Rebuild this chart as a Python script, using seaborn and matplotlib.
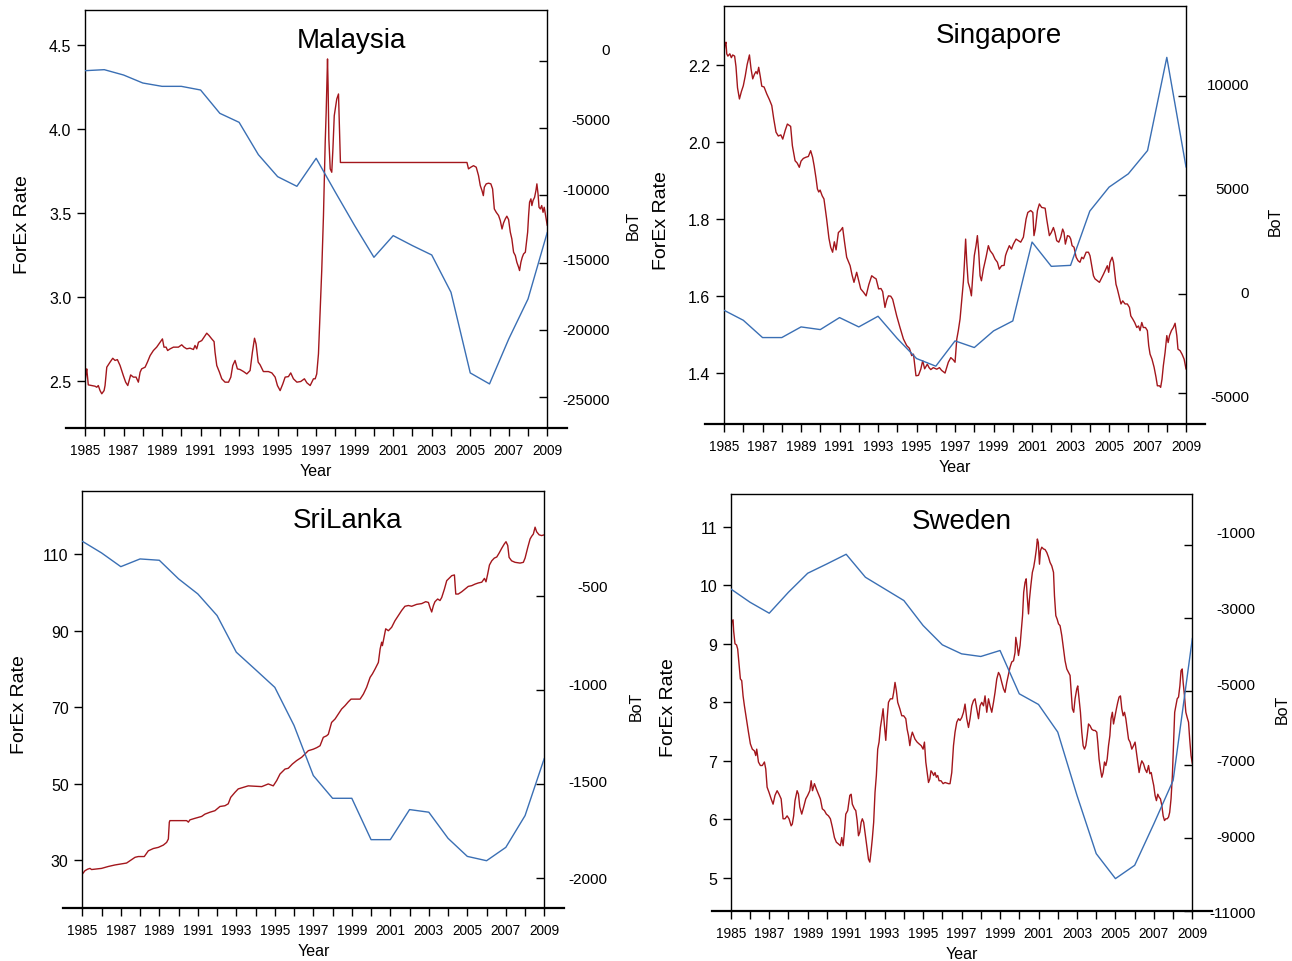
import matplotlib
matplotlib.use("Agg")
import matplotlib.pyplot as plt
import seaborn as sns

sns.set_theme(style="ticks", rc={
    "axes.edgecolor": "black", "text.color": "black", "axes.labelcolor": "black",
    "xtick.color": "black", "ytick.color": "black",
})
plt.rcParams["font.family"] = ["Liberation Sans", "DejaVu Sans"]
plt.rcParams["axes.unicode_minus"] = False

FX_COLOR = "#a3161c"
BOT_COLOR = "#3a6fb4"

YEARS = list(range(1985, 2010))
TICK_LABELS = [str(y) if y % 2 == 1 else "" for y in YEARS]

# ---------------- Malaysia ----------------
MY_FX_T = [1985.00, 1985.05, 1985.09, 1985.17, 1985.35, 1985.52, 1985.61, 1985.69, 1985.78, 1985.87,
           1985.99, 1986.04, 1986.13, 1986.30, 1986.44, 1986.56, 1986.68, 1986.82, 1986.99, 1987.11,
           1987.22, 1987.37, 1987.51, 1987.65, 1987.77, 1987.86, 1987.94, 1988.12, 1988.24, 1988.38,
           1988.55, 1988.72, 1988.90, 1989.02, 1989.10, 1989.21, 1989.29, 1989.42, 1989.59, 1989.85,
           1990.02, 1990.14, 1990.28, 1990.45, 1990.63, 1990.71, 1990.80, 1990.89, 1991.06, 1991.18,
           1991.32, 1991.44, 1991.58, 1991.70, 1991.75, 1991.84, 1991.98, 1992.10, 1992.27, 1992.45,
           1992.57, 1992.67, 1992.79, 1992.91, 1993.05, 1993.23, 1993.40, 1993.57, 1993.69, 1993.80,
           1993.88, 1993.99, 1994.09, 1994.26, 1994.52, 1994.70, 1994.87, 1994.99, 1995.13, 1995.27,
           1995.39, 1995.56, 1995.68, 1995.82, 1996.00, 1996.20, 1996.39, 1996.52, 1996.69, 1996.86,
           1996.95, 1997.03, 1997.12, 1997.21, 1997.29, 1997.38, 1997.47, 1997.52, 1997.59, 1997.62,
           1997.66, 1997.73, 1997.81, 1997.87, 1997.94, 1998.07, 1998.16, 1998.21, 1998.26, 2004.83,
           2004.91, 2005.03, 2005.17, 2005.31, 2005.43, 2005.52, 2005.61, 2005.68, 2005.73, 2005.83,
           2005.95, 2006.07, 2006.16, 2006.25, 2006.35, 2006.47, 2006.56, 2006.65, 2006.73, 2006.82,
           2006.90, 2006.99, 2007.08, 2007.16, 2007.25, 2007.34, 2007.42, 2007.51, 2007.56, 2007.63,
           2007.70, 2007.77, 2007.86, 2007.91, 2007.98, 2008.03, 2008.08, 2008.15, 2008.20, 2008.26,
           2008.34, 2008.41, 2008.46, 2008.52, 2008.57, 2008.64, 2008.71, 2008.78, 2008.84, 2008.91,
           2009.00]
MY_FX = [2.495, 2.544, 2.574, 2.479, 2.475, 2.471, 2.465, 2.475, 2.445, 2.426,
         2.445, 2.475, 2.584, 2.614, 2.637, 2.624, 2.629, 2.594, 2.534, 2.495,
         2.475, 2.538, 2.525, 2.525, 2.495, 2.554, 2.574, 2.584, 2.614, 2.653,
         2.683, 2.703, 2.732, 2.752, 2.703, 2.703, 2.683, 2.693, 2.703, 2.703,
         2.717, 2.703, 2.693, 2.697, 2.689, 2.713, 2.693, 2.732, 2.742, 2.762,
         2.786, 2.772, 2.752, 2.736, 2.673, 2.594, 2.554, 2.515, 2.495, 2.495,
         2.525, 2.594, 2.624, 2.574, 2.570, 2.558, 2.544, 2.564, 2.673, 2.756,
         2.722, 2.614, 2.598, 2.558, 2.558, 2.550, 2.525, 2.475, 2.445, 2.485,
         2.525, 2.528, 2.550, 2.515, 2.495, 2.499, 2.515, 2.491, 2.475, 2.515,
         2.515, 2.544, 2.663, 2.920, 3.158, 3.485, 3.920, 4.098, 4.415, 4.257,
         3.940, 3.762, 3.742, 3.880, 4.078, 4.177, 4.207, 4.000, 3.800, 3.800,
         3.762, 3.772, 3.781, 3.772, 3.722, 3.663, 3.633, 3.603, 3.653, 3.673,
         3.677, 3.673, 3.643, 3.524, 3.504, 3.485, 3.455, 3.405, 3.441, 3.465,
         3.481, 3.461, 3.386, 3.346, 3.267, 3.247, 3.207, 3.178, 3.158, 3.207,
         3.237, 3.257, 3.267, 3.316, 3.386, 3.485, 3.564, 3.584, 3.544, 3.574,
         3.593, 3.633, 3.673, 3.613, 3.534, 3.524, 3.544, 3.504, 3.534, 3.485,
         3.425]
MY_BOT = [-743, -668, -1064, -1658, -1906, -1906, -2178, -3911, -4579, -6980,
          -8614, -9332, -7252, -9777, -12252, -14604, -12995, -13738, -14431, -17203,
          -23193, -24010, -20668, -17698, -12748]

# ---------------- Singapore ----------------
SG_FX_T = [1985.00, 1985.04, 1985.10, 1985.14, 1985.20, 1985.30, 1985.38, 1985.45, 1985.55, 1985.62,
           1985.70, 1985.80, 1985.90, 1986.00, 1986.10, 1986.20, 1986.32, 1986.40, 1986.49, 1986.58,
           1986.66, 1986.73, 1986.80, 1986.88, 1986.96, 1987.08, 1987.22, 1987.35, 1987.48, 1987.58,
           1987.70, 1987.82, 1987.95, 1988.05, 1988.18, 1988.29, 1988.46, 1988.55, 1988.69, 1988.80,
           1988.91, 1989.00, 1989.12, 1989.25, 1989.38, 1989.50, 1989.60, 1989.68, 1989.78, 1989.85,
           1989.92, 1989.99, 1990.10, 1990.19, 1990.33, 1990.45, 1990.54, 1990.64, 1990.73, 1990.82,
           1990.94, 1991.05, 1991.16, 1991.26, 1991.37, 1991.55, 1991.65, 1991.75, 1991.89, 1992.00,
           1992.10, 1992.25, 1992.38, 1992.52, 1992.67, 1992.80, 1992.90, 1993.03, 1993.15, 1993.24,
           1993.36, 1993.45, 1993.54, 1993.66, 1993.76, 1993.87, 1993.97, 1994.14, 1994.32, 1994.49,
           1994.63, 1994.75, 1994.84, 1994.97, 1995.10, 1995.22, 1995.32, 1995.42, 1995.56, 1995.65,
           1995.74, 1995.87, 1996.05, 1996.19, 1996.30, 1996.48, 1996.65, 1996.78, 1996.91, 1997.00,
           1997.09, 1997.17, 1997.26, 1997.35, 1997.43, 1997.48, 1997.55, 1997.61, 1997.68, 1997.78,
           1997.85, 1997.92, 1998.00, 1998.09, 1998.16, 1998.23, 1998.30, 1998.37, 1998.47, 1998.61,
           1998.73, 1998.82, 1998.96, 1999.08, 1999.20, 1999.30, 1999.42, 1999.55, 1999.62, 1999.68,
           1999.82, 1999.93, 2000.03, 2000.17, 2000.29, 2000.41, 2000.55, 2000.69, 2000.78, 2000.93,
           2001.04, 2001.10, 2001.17, 2001.28, 2001.38, 2001.50, 2001.68, 2001.76, 2001.90, 2002.00,
           2002.11, 2002.19, 2002.28, 2002.39, 2002.49, 2002.59, 2002.66, 2002.73, 2002.84, 2002.94,
           2003.01, 2003.08, 2003.18, 2003.29, 2003.39, 2003.49, 2003.58, 2003.67, 2003.81, 2003.93,
           2004.01, 2004.10, 2004.19, 2004.27, 2004.40, 2004.50, 2004.59, 2004.71, 2004.83, 2004.91,
           2004.98, 2005.05, 2005.16, 2005.23, 2005.31, 2005.36, 2005.43, 2005.54, 2005.62, 2005.71,
           2005.83, 2005.95, 2006.06, 2006.13, 2006.23, 2006.33, 2006.44, 2006.53, 2006.61, 2006.70,
           2006.78, 2006.89, 2006.99, 2007.06, 2007.13, 2007.23, 2007.34, 2007.44, 2007.51, 2007.62,
           2007.68, 2007.75, 2007.82, 2007.91, 2008.00, 2008.07, 2008.14, 2008.24, 2008.34, 2008.43,
           2008.52, 2008.58, 2008.69, 2008.79, 2008.90, 2009.00]
SG_FX = [2.232, 2.250, 2.258, 2.228, 2.222, 2.228, 2.218, 2.225, 2.222, 2.195,
         2.140, 2.111, 2.130, 2.145, 2.170, 2.200, 2.225, 2.190, 2.163, 2.175,
         2.182, 2.176, 2.193, 2.170, 2.144, 2.142, 2.124, 2.110, 2.094, 2.060,
         2.025, 2.015, 2.018, 2.007, 2.030, 2.046, 2.040, 1.990, 1.951, 1.945,
         1.934, 1.950, 1.957, 1.960, 1.962, 1.977, 1.960, 1.938, 1.905, 1.878,
         1.870, 1.875, 1.860, 1.852, 1.800, 1.750, 1.727, 1.714, 1.741, 1.720,
         1.765, 1.770, 1.778, 1.740, 1.701, 1.679, 1.655, 1.636, 1.662, 1.640,
         1.619, 1.610, 1.601, 1.630, 1.653, 1.648, 1.645, 1.619, 1.620, 1.612,
         1.571, 1.590, 1.601, 1.600, 1.592, 1.570, 1.549, 1.519, 1.489, 1.472,
         1.465, 1.446, 1.450, 1.394, 1.395, 1.411, 1.433, 1.412, 1.424, 1.415,
         1.410, 1.415, 1.411, 1.415, 1.408, 1.401, 1.429, 1.441, 1.435, 1.429,
         1.489, 1.511, 1.541, 1.593, 1.636, 1.679, 1.748, 1.688, 1.636, 1.619,
         1.601, 1.653, 1.705, 1.731, 1.757, 1.714, 1.653, 1.640, 1.670, 1.701,
         1.731, 1.718, 1.709, 1.696, 1.688, 1.670, 1.679, 1.680, 1.705, 1.714,
         1.731, 1.722, 1.735, 1.748, 1.744, 1.740, 1.753, 1.800, 1.817, 1.822,
         1.817, 1.757, 1.774, 1.822, 1.839, 1.830, 1.828, 1.800, 1.757, 1.765,
         1.778, 1.765, 1.744, 1.740, 1.753, 1.774, 1.765, 1.735, 1.757, 1.755,
         1.748, 1.731, 1.727, 1.701, 1.692, 1.688, 1.701, 1.697, 1.714, 1.714,
         1.705, 1.679, 1.653, 1.645, 1.640, 1.636, 1.645, 1.657, 1.670, 1.679,
         1.662, 1.688, 1.701, 1.688, 1.653, 1.631, 1.619, 1.597, 1.580, 1.588,
         1.580, 1.580, 1.571, 1.549, 1.541, 1.532, 1.519, 1.523, 1.511, 1.532,
         1.519, 1.519, 1.511, 1.472, 1.450, 1.437, 1.416, 1.390, 1.368, 1.368,
         1.364, 1.385, 1.420, 1.454, 1.498, 1.480, 1.498, 1.511, 1.519, 1.530,
         1.498, 1.463, 1.459, 1.450, 1.437, 1.411]
SG_BOT = [-807, -1311, -2185, -2185, -1647, -1782, -1176, -1647, -1109, -2235,
          -3244, -3630, -2353, -2689, -1849, -1345, 2639, 1412, 1462, 4202,
          5412, 6084, 7261, 11966, 6420]

# ---------------- Sri Lanka ----------------
LK_FX_T = [1985.00, 1985.14, 1985.28, 1985.40, 1985.48, 1985.66, 1986.00, 1986.35, 1986.70, 1987.04,
           1987.30, 1987.48, 1987.74, 1987.91, 1988.22, 1988.43, 1988.69, 1988.95, 1989.21, 1989.38,
           1989.47, 1989.52, 1989.55, 1990.42, 1990.51, 1990.59, 1990.85, 1991.20, 1991.37, 1991.63,
           1991.89, 1992.15, 1992.41, 1992.58, 1992.71, 1992.93, 1993.10, 1993.36, 1993.62, 1993.97,
           1994.32, 1994.66, 1994.92, 1995.10, 1995.27, 1995.53, 1995.70, 1995.91, 1996.13, 1996.40,
           1996.74, 1997.00, 1997.18, 1997.35, 1997.52, 1997.69, 1997.78, 1997.95, 1998.13, 1998.30,
           1998.47, 1998.65, 1998.82, 1998.96, 1999.17, 1999.43, 1999.60, 1999.77, 1999.95, 2000.07,
           2000.21, 2000.38, 2000.47, 2000.55, 2000.59, 2000.69, 2000.76, 2000.90, 2001.07, 2001.24,
           2001.42, 2001.59, 2001.76, 2001.94, 2002.11, 2002.37, 2002.63, 2002.84, 2002.98, 2003.06,
           2003.15, 2003.24, 2003.32, 2003.46, 2003.58, 2003.67, 2003.81, 2003.93, 2004.05, 2004.19,
           2004.33, 2004.40, 2004.53, 2004.71, 2004.88, 2005.05, 2005.23, 2005.40, 2005.57, 2005.75,
           2005.89, 2005.97, 2006.06, 2006.15, 2006.27, 2006.40, 2006.53, 2006.65, 2006.79, 2006.92,
           2007.01, 2007.10, 2007.17, 2007.30, 2007.48, 2007.74, 2007.91, 2008.00, 2008.14, 2008.26,
           2008.34, 2008.43, 2008.52, 2008.60, 2008.73, 2008.86, 2009.00]
LK_FX = [26.3, 27.2, 27.6, 27.8, 27.5, 27.6, 27.8, 28.3, 28.7, 29.0,
         29.2, 29.8, 30.7, 30.9, 30.9, 32.4, 33.0, 33.3, 33.9, 34.6,
         35.5, 39.9, 40.3, 40.3, 39.9, 40.5, 40.9, 41.4, 42.0, 42.5,
         42.9, 44.0, 44.2, 44.7, 46.4, 47.7, 48.6, 49.0, 49.4, 49.3,
         49.2, 49.9, 49.4, 50.8, 52.5, 53.8, 54.0, 55.1, 56.0, 56.9,
         58.6, 59.0, 59.4, 59.9, 62.1, 62.5, 62.9, 66.0, 66.9, 68.2,
         69.5, 70.4, 71.4, 72.1, 72.1, 72.1, 73.4, 75.2, 77.8, 78.7,
         80.0, 81.7, 85.2, 87.0, 86.1, 88.7, 90.5, 90.0, 90.9, 92.6,
         94.0, 95.3, 96.4, 96.6, 96.4, 96.9, 97.1, 97.6, 97.4, 96.1,
         94.9, 96.6, 97.6, 98.3, 97.9, 98.7, 100.9, 103.1, 103.7, 104.4,
         104.6, 99.6, 99.6, 100.2, 100.9, 101.6, 101.8, 102.2, 102.5, 102.7,
         103.7, 102.8, 104.9, 107.2, 108.3, 109.0, 109.3, 110.3, 111.6, 112.7,
         113.3, 112.3, 109.2, 108.3, 107.9, 107.7, 107.9, 109.0, 111.8, 114.0,
         114.7, 115.3, 117.1, 115.9, 115.1, 114.9, 115.1]
LK_BOT = [-211, -273, -346, -305, -312, -411, -491, -606, -801, -894,
          -988, -1191, -1457, -1578, -1578, -1798, -1798, -1638, -1652, -1791,
          -1887, -1910, -1839, -1670, -1365]

# ---------------- Sweden ----------------
SE_FX_T = [1985.00, 1985.05, 1985.12, 1985.15, 1985.22, 1985.30, 1985.36, 1985.43, 1985.50, 1985.57,
           1985.64, 1985.71, 1985.81, 1985.92, 1986.02, 1986.12, 1986.23, 1986.30, 1986.35, 1986.44,
           1986.54, 1986.64, 1986.75, 1986.82, 1986.89, 1986.99, 1987.10, 1987.20, 1987.30, 1987.41,
           1987.51, 1987.62, 1987.72, 1987.82, 1987.93, 1988.03, 1988.14, 1988.20, 1988.27, 1988.34,
           1988.45, 1988.52, 1988.59, 1988.69, 1988.79, 1988.90, 1989.00, 1989.11, 1989.18, 1989.25,
           1989.35, 1989.45, 1989.56, 1989.66, 1989.76, 1989.87, 1989.97, 1990.08, 1990.18, 1990.28,
           1990.39, 1990.49, 1990.60, 1990.70, 1990.77, 1990.84, 1990.91, 1990.98, 1991.08, 1991.19,
           1991.26, 1991.32, 1991.43, 1991.50, 1991.57, 1991.64, 1991.71, 1991.78, 1991.84, 1991.91,
           1991.98, 1992.09, 1992.16, 1992.23, 1992.29, 1992.36, 1992.43, 1992.50, 1992.57, 1992.64,
           1992.71, 1992.78, 1992.85, 1992.92, 1992.99, 1993.06, 1993.13, 1993.20, 1993.30, 1993.41,
           1993.47, 1993.54, 1993.61, 1993.68, 1993.79, 1993.89, 1993.99, 1994.10, 1994.17, 1994.24,
           1994.31, 1994.37, 1994.44, 1994.51, 1994.58, 1994.69, 1994.79, 1994.90, 1995.00, 1995.07,
           1995.14, 1995.21, 1995.28, 1995.35, 1995.41, 1995.48, 1995.55, 1995.62, 1995.69, 1995.76,
           1995.83, 1995.93, 1996.04, 1996.14, 1996.32, 1996.40, 1996.49, 1996.58, 1996.66, 1996.75,
           1996.84, 1996.92, 1997.01, 1997.10, 1997.18, 1997.27, 1997.36, 1997.44, 1997.53, 1997.62,
           1997.70, 1997.79, 1997.88, 1997.96, 1998.05, 1998.14, 1998.22, 1998.31, 1998.40, 1998.48,
           1998.57, 1998.66, 1998.74, 1998.83, 1998.92, 1999.00, 1999.09, 1999.18, 1999.26, 1999.35,
           1999.44, 1999.52, 1999.61, 1999.70, 1999.78, 1999.82, 1999.89, 1999.96, 2000.04, 2000.10,
           2000.17, 2000.23, 2000.30, 2000.36, 2000.41, 2000.48, 2000.53, 2000.60, 2000.68, 2000.75,
           2000.82, 2000.89, 2000.94, 2000.99, 2001.05, 2001.10, 2001.17, 2001.26, 2001.34, 2001.43,
           2001.52, 2001.60, 2001.69, 2001.78, 2001.83, 2001.90, 2001.97, 2002.04, 2002.12, 2002.21,
           2002.30, 2002.38, 2002.47, 2002.56, 2002.64, 2002.70, 2002.76, 2002.83, 2002.90, 2002.99,
           2003.04, 2003.11, 2003.18, 2003.25, 2003.32, 2003.39, 2003.46, 2003.53, 2003.60, 2003.68,
           2003.77, 2003.86, 2003.94, 2004.03, 2004.08, 2004.15, 2004.22, 2004.29, 2004.36, 2004.43,
           2004.50, 2004.57, 2004.64, 2004.71, 2004.77, 2004.84, 2004.90, 2004.98, 2005.05, 2005.12,
           2005.19, 2005.26, 2005.33, 2005.40, 2005.47, 2005.54, 2005.61, 2005.68, 2005.76, 2005.85,
           2005.94, 2006.02, 2006.09, 2006.16, 2006.23, 2006.30, 2006.37, 2006.46, 2006.54, 2006.63,
           2006.72, 2006.79, 2006.86, 2006.92, 2006.99, 2007.06, 2007.13, 2007.20, 2007.27, 2007.34,
           2007.41, 2007.48, 2007.55, 2007.62, 2007.69, 2007.76, 2007.82, 2007.89, 2007.96, 2008.03,
           2008.08, 2008.14, 2008.21, 2008.28, 2008.35, 2008.41, 2008.47, 2008.52, 2008.59, 2008.66,
           2008.73, 2008.80, 2008.86, 2008.93, 2009.00]
SE_FX = [9.14, 9.37, 9.41, 9.22, 9.00, 8.98, 8.91, 8.65, 8.40, 8.37,
         8.11, 7.94, 7.72, 7.49, 7.29, 7.20, 7.17, 7.09, 7.20, 6.98,
         6.92, 6.92, 6.98, 6.86, 6.55, 6.46, 6.35, 6.26, 6.41, 6.49,
         6.43, 6.35, 6.01, 6.01, 6.06, 6.01, 5.89, 5.92, 6.06, 6.32,
         6.49, 6.43, 6.21, 6.09, 6.21, 6.35, 6.41, 6.49, 6.66, 6.49,
         6.61, 6.52, 6.43, 6.35, 6.18, 6.15, 6.09, 6.06, 6.01, 5.87,
         5.69, 5.61, 5.58, 5.55, 5.69, 5.55, 5.78, 6.09, 6.15, 6.41,
         6.43, 6.26, 6.18, 6.15, 5.98, 5.72, 5.78, 5.95, 6.01, 5.95,
         5.78, 5.50, 5.32, 5.27, 5.44, 5.67, 5.95, 6.46, 6.75, 7.20,
         7.32, 7.57, 7.72, 7.89, 7.60, 7.35, 7.72, 8.00, 8.06, 8.06,
         8.17, 8.34, 8.20, 8.00, 7.89, 7.77, 7.77, 7.72, 7.54, 7.43,
         7.26, 7.40, 7.49, 7.43, 7.37, 7.32, 7.29, 7.26, 7.20, 7.32,
         6.98, 6.80, 6.63, 6.69, 6.83, 6.80, 6.75, 6.80, 6.72, 6.75,
         6.66, 6.66, 6.61, 6.63, 6.61, 6.61, 6.80, 7.26, 7.49, 7.66,
         7.72, 7.69, 7.74, 7.83, 7.97, 7.72, 7.57, 7.72, 7.94, 8.03,
         8.06, 7.89, 7.72, 7.94, 8.00, 7.94, 8.11, 7.83, 8.06, 7.94,
         7.83, 8.00, 8.17, 8.40, 8.51, 8.46, 8.34, 8.23, 8.17, 8.34,
         8.48, 8.60, 8.69, 8.71, 8.85, 9.11, 8.97, 8.80, 8.97, 9.20,
         9.48, 9.88, 10.05, 10.11, 9.82, 9.51, 9.76, 9.99, 10.22, 10.31,
         10.45, 10.62, 10.79, 10.73, 10.36, 10.59, 10.65, 10.62, 10.61, 10.56,
         10.48, 10.39, 10.33, 10.22, 9.82, 9.48, 9.42, 9.34, 9.31, 9.14,
         8.91, 8.71, 8.57, 8.51, 8.46, 8.17, 7.89, 7.83, 8.06, 8.23,
         8.28, 8.06, 7.83, 7.49, 7.26, 7.20, 7.26, 7.43, 7.63, 7.60,
         7.54, 7.52, 7.52, 7.49, 7.32, 7.03, 6.86, 6.72, 6.80, 6.98,
         6.92, 7.03, 7.26, 7.43, 7.72, 7.83, 7.63, 7.77, 7.89, 8.00,
         8.09, 8.11, 7.89, 7.77, 7.83, 7.72, 7.54, 7.37, 7.32, 7.20,
         7.26, 7.32, 7.15, 6.98, 6.80, 6.92, 7.00, 6.95, 6.86, 6.80,
         6.92, 6.78, 6.80, 6.69, 6.58, 6.41, 6.32, 6.43, 6.38, 6.35,
         6.24, 6.06, 5.98, 6.01, 6.01, 6.04, 6.12, 6.35, 6.75, 7.37,
         7.83, 7.94, 8.06, 8.09, 8.28, 8.54, 8.57, 8.34, 8.11, 7.83,
         7.74, 7.66, 7.37, 7.09, 6.95]
SE_BOT = [-2201, -2564, -2864, -2291, -1773, -1518, -1255, -1882, -2200, -2518,
          -3200, -3727, -3973, -4045, -3882, -5064, -5355, -6109, -7836, -9427,
          -10109, -9745, -8609, -7427, -3545]

PANELS = [
    dict(title="Malaysia", title_xy=(0.576, 0.929), rect=[0.0658, 0.5541, 0.3578, 0.4345],
         fx_t=MY_FX_T, fx=MY_FX, fx_lim=(2.223, 4.706), fx_ticks=[2.5, 3.0, 3.5, 4.0, 4.5], fx_fmt="{:.1f}",
         bot=MY_BOT, bot_lim=(-27281, 3767), bot_ticks=[-25000, -20000, -15000, -10000, -5000, 0],
         bot_label_lim=(-27121, 2736), bot_label_x=1.186),
    dict(title="Singapore", title_xy=(0.595, 0.931), rect=[0.5604, 0.5582, 0.3576, 0.4342],
         fx_t=SG_FX_T, fx=SG_FX, fx_lim=(1.269, 2.351), fx_ticks=[1.4, 1.6, 1.8, 2.0, 2.2], fx_fmt="{:.1f}",
         bot=SG_BOT, bot_lim=(-6551, 14545), bot_ticks=[-5000, 0, 5000, 10000],
         bot_label_lim=(-6396, 13705), bot_label_x=1.193),
    dict(title="SriLanka", title_xy=(0.573, 0.931), rect=[0.0637, 0.0548, 0.3576, 0.4335],
         fx_t=LK_FX_T, fx=LK_FX, fx_lim=(17.36, 126.5), fx_ticks=[30, 50, 70, 90, 110], fx_fmt="{:.0f}",
         bot=LK_BOT, bot_lim=(-2163, 55), bot_ticks=[-2000, -1500, -1000, -500],
         bot_label_lim=(-2155.5, -15.4), bot_label_x=1.198),
    dict(title="Sweden", title_xy=(0.501, 0.935), rect=[0.5656, 0.0517, 0.3573, 0.4338],
         fx_t=SE_FX_T, fx=SE_FX, fx_lim=(4.43, 11.56), fx_ticks=[5, 6, 7, 8, 9, 10, 11], fx_fmt="{:.0f}",
         bot=SE_BOT, bot_lim=(-11000, 391.5), bot_ticks=[-11000, -9000, -7000, -5000, -3000, -1000],
         bot_label_lim=(-10948, -23.5), bot_label_x=1.194),
]

fig = plt.figure(figsize=(12.92, 9.62), dpi=100)

for p in PANELS:
    ax = fig.add_axes(p["rect"])
    ax2 = ax.twinx()   # balance of trade scale (tick marks)
    ax3 = ax.twinx()   # balance of trade tick labels

    sns.lineplot(x=p["fx_t"], y=p["fx"], ax=ax, color=FX_COLOR, linewidth=1.0,
                 estimator=None, sort=False, legend=False)
    sns.lineplot(x=YEARS, y=p["bot"], ax=ax2, color=BOT_COLOR, linewidth=1.0,
                 estimator=None, sort=False, legend=False)

    ax.set_xlim(1985, 2009)
    ax.set_ylim(*p["fx_lim"])
    ax2.set_ylim(*p["bot_lim"])
    ax3.set_ylim(*p["bot_label_lim"])

    # frame: full box, bottom line runs past both sides
    for side in ["left", "right", "top", "bottom"]:
        ax.spines[side].set_visible(True)
        ax.spines[side].set_color("black")
        ax.spines[side].set_linewidth(1.0)
    ax.spines["bottom"].set_linewidth(1.6)
    ax.spines["bottom"].set_bounds(1984, 2010)
    for a in (ax2, ax3):
        for s in a.spines.values():
            s.set_visible(False)

    ax.set_xticks(YEARS)
    ax.set_xticklabels(TICK_LABELS)
    ax.tick_params(axis="x", direction="out", length=5.5, width=1.0, pad=5.0,
                   labelsize=9.8, bottom=True, top=False)

    ax.set_yticks(p["fx_ticks"])
    ax.set_yticklabels([p["fx_fmt"].format(v) for v in p["fx_ticks"]])
    ax.tick_params(axis="y", direction="out", length=5.8, width=1.0, pad=4.0,
                   labelsize=11.5, left=True, right=False, labelright=False)

    ax2.set_yticks(p["bot_ticks"])
    ax2.tick_params(axis="y", direction="in", length=5.8, width=1.0,
                    right=True, left=False, labelright=False, labelleft=False)

    ax3.set_yticks(p["bot_ticks"])
    ax3.set_yticklabels([str(v) for v in p["bot_ticks"]])
    ax3.tick_params(axis="y", length=0, pad=45.4, labelsize=11,
                    right=True, left=False, labelright=True, labelleft=False)
    for lab in ax3.get_yticklabels():
        lab.set_horizontalalignment("right")

    ax.set_xlabel("Year", fontsize=11.5, va="center")
    ax.xaxis.set_label_coords(0.5, -0.101)
    ax.set_ylabel("ForEx Rate", fontsize=14, va="center")
    ax.yaxis.set_label_coords(-0.135, 0.49)
    ax3.set_ylabel("BoT", fontsize=11.5, va="center", rotation=90)
    ax3.yaxis.set_label_coords(p["bot_label_x"], 0.487)

    ax.text(p["title_xy"][0], p["title_xy"][1], p["title"], transform=ax.transAxes,
            ha="center", va="center", fontsize=20)

fig.savefig("out.png", dpi=100)
